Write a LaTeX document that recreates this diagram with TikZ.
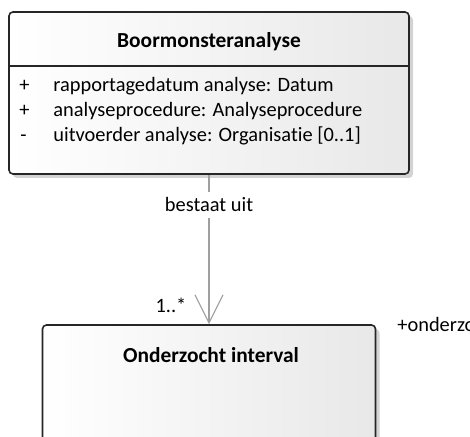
\documentclass[tikz,border=0pt]{standalone}
\usepackage{fontspec}
\setmainfont[Ligatures=NoCommon]{Carlito}
\usepackage{tikz}
\usetikzlibrary{arrows.meta,positioning,shadows}

\tikzset{
    classbox/.style={draw=black!85,line width=0.8pt,rounded corners=2pt,
        left color=white,right color=gray!18,
        drop shadow={shadow xshift=2pt,shadow yshift=-2pt,opacity=0.35}},
    assoc/.style={draw=gray!75,line width=0.6pt,-{Straight Barb[length=14pt,width=14pt,line width=0.6pt]}},
    attr/.style={anchor=base west,inner sep=0pt,font=\fontsize{10.2}{12}\selectfont},
    titletext/.style={anchor=base,inner sep=0pt,font=\fontsize{10.7}{12}\selectfont\bfseries},
    plaintext/.style={anchor=base,inner sep=0pt,font=\fontsize{10.2}{12}\selectfont}
}

\begin{document}
\begin{tikzpicture}[x=0.5pt,y=-0.5pt]
    \clip (0,0) rectangle (470,437);

    % Class boxes
    \node[classbox,minimum width=200pt,minimum height=81pt] (analyse) at (209,93) {};
    \node[classbox,minimum width=166.5pt,minimum height=70pt] (interval) at (209,395) {};

    % Header of the upper class
    \draw[black!85,line width=0.8pt] (10,66) -- (408,66);
    \node[titletext] (titel) at (209,48) {Boormonsteranalyse};

    % Attributes
    \node[attr] (v1) at (19,92) {+};
    \node[attr] (a1) at (53,92) {rapportagedatum analyse: Datum};
    \node[attr] (v2) at (19,117) {+};
    \node[attr] (a2) at (53,117) {analyseprocedure: Analyseprocedure};
    \node[attr] (v3) at (20,142) {-};
    \node[attr] (a3) at (53,142) {uitvoerder analyse: Organisatie [0..1]};

    % Lower class name
    \node[titletext] (naam) at (211,363) {Onderzocht interval};

    % Association
    \draw[assoc] (analyse.south) -- node[pos=0.2,fill=white,inner sep=3pt,font=\fontsize{10.2}{12}\selectfont] (rol) {bestaat uit} (interval.north);

    % Multiplicity and role
    \node[plaintext] (mult) at (171,313) {1..*};
    \node[attr] (eind) at (397,332) {+onderzo};
\end{tikzpicture}
\end{document}
